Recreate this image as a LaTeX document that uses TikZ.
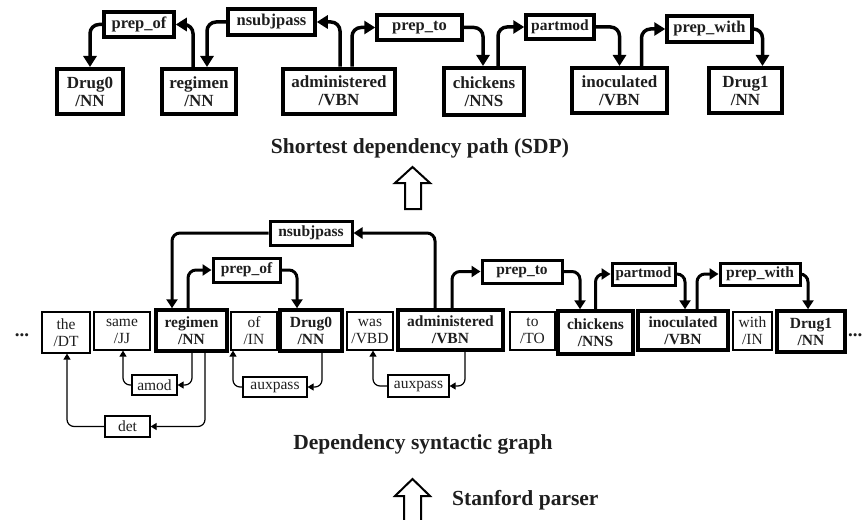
\documentclass[tikz,border=0pt]{standalone}
\usepackage{fontspec}
\setmainfont{Liberation Serif}
\usetikzlibrary{arrows.meta,calc}
\newcommand\tpfont{\bfseries\fontsize{17}{18}\selectfont}
\newcommand\tplfont{\bfseries\fontsize{16.5}{18}\selectfont}
\newcommand\mdbfont{\bfseries\fontsize{15.5}{17}\selectfont}
\newcommand\mdrfont{\fontsize{15.5}{17}\selectfont}
\newcommand\ttlfont{\bfseries\fontsize{21.5}{24}\selectfont}
\definecolor{ink}{HTML}{1E1E1E}
\tikzset{
 topbox/.style={draw, line width=4pt, minimum height=45pt, inner sep=0pt, align=center, font=\tpfont, text=ink},
 toplab/.style={draw, line width=3.5pt, inner sep=0pt, minimum height=25pt, font=\tplfont, text=ink},
 toparr/.style={line width=3.5pt, rounded corners=9pt, -{Triangle[length=11pt,width=13pt]}},
 midbox/.style={draw, line width=3.5pt, inner sep=0pt, minimum height=41pt, align=center, font=\mdbfont, text=ink},
 thinbox/.style={draw, line width=1.2pt, inner sep=0pt, minimum height=38pt, align=center, font=\mdrfont, text=ink},
 midlab/.style={draw, line width=3pt, inner sep=0pt, minimum height=23pt, font=\mdbfont, text=ink},
 midarr/.style={line width=3pt, rounded corners=8pt, -{Triangle[length=9pt,width=11pt]}},
 lowlab/.style={draw, line width=1.2pt, inner sep=0pt, minimum height=20pt, font=\mdrfont, text=ink},
 thinarr/.style={line width=1.2pt, rounded corners=7pt, -{Triangle[length=6pt,width=7pt]}},
 ttl/.style={font=\ttlfont, text=ink, inner sep=0pt},
 dots/.style={font=\bfseries\fontsize{19}{19}\selectfont, text=ink, inner sep=0pt},
 hollow/.style={line width=2pt, line join=miter},
}
\begin{document}
\begin{tikzpicture}[x=1pt,y=-1pt]
\useasboundingbox (0,0) rectangle (864,519);
% ---------- top row (SDP) ----------
\node[topbox, minimum width=66pt] (d0T) at (90,91.5) {Drug0\\/NN};
\node[topbox, minimum width=74pt] (regT) at (199,91.5) {regimen\\/NN};
\node[topbox, minimum width=112pt] (admT) at (339,91) {administered\\/VBN};
\node[topbox, minimum width=80pt, minimum height=47pt] (chkT) at (484,91.5) {chickens\\/NNS};
\node[topbox, minimum width=95pt] (inoT) at (619.5,90.5) {inoculated\\/VBN};
\node[topbox, minimum width=73pt] (d1T) at (745.5,90.5) {Drug1\\/NN};
\node[toplab, minimum width=70pt] (pofT) at (139,24.5) {prep\_of};
\node[toplab, minimum width=87pt, minimum height=26pt] (nsT) at (271.5,22) {nsubjpass};
\node[toplab, minimum width=85pt] (ptoT) at (419.5,27.5) {prep\_to};
\node[toplab, minimum width=68pt, minimum height=24pt, font=\bfseries\fontsize{15.5}{17}\selectfont] (pmT) at (560,27) {partmod};
\node[toplab, minimum width=85pt, minimum height=26pt] (pwT) at (709.5,29) {prep\_with};
\draw[toparr] ([xshift=-6pt]regT.north) |- (pofT.east);
\draw[toparr] (pofT.west) -| (d0T.north);
\draw[toparr] ([xshift=1pt]admT.north) |- (nsT.east);
\draw[toparr] (nsT.west) -| ([xshift=8pt]regT.north);
\draw[toparr] ([xshift=13pt]admT.north) |- (ptoT.west);
\draw[toparr] (ptoT.east) -| ([xshift=-1pt]chkT.north);
\draw[toparr] ([xshift=14pt]chkT.north) |- (pmT.west);
\draw[toparr] (pmT.east) -| (inoT.north);
\draw[toparr] ([xshift=22pt]inoT.north) |- (pwT.west);
\draw[toparr] (pwT.east) -| ([xshift=17pt]d1T.north);
% ---------- titles and hollow arrows ----------
\node[ttl] (sdp) at (420,148) {Shortest dependency path (SDP)};
\draw[hollow] (405,209) -- (405,183) -- (395,183) -- (412.5,167) -- (430,183) -- (421,183) -- (421,209) -- cycle;
\node[ttl] (dsg) at (423,444) {Dependency syntactic graph};
\draw[hollow] (404,520) -- (404,496) -- (395,496) -- (412.5,479) -- (430,496) -- (421,496) -- (421,520);
\node[ttl, anchor=west] (sp) at (452,500) {Stanford parser};
% ---------- middle row ----------
\node[dots, anchor=base] (dl) at (22,336) {...};
\node[dots, anchor=base west] (dr) at (848,336) {...};
\node[thinbox, minimum width=48pt, minimum height=41pt] (theM) at (66,332.5) {the\\/DT};
\node[thinbox, minimum width=56pt] (samM) at (122,331) {same\\/JJ};
\node[midbox, minimum width=71pt] (regM) at (191.5,330.5) {regimen\\/NN};
\node[thinbox, minimum width=46pt] (ofM) at (254,331) {of\\/IN};
\node[midbox, minimum width=62pt] (d0M) at (311,330.5) {Drug0\\/NN};
\node[thinbox, minimum width=46pt] (wasM) at (370,331) {was\\/VBD};
\node[midbox, minimum width=105pt, minimum height=40pt] (admM) at (450.5,330) {administered\\/VBN};
\node[thinbox, minimum width=45pt] (toM) at (532.5,331) {to\\/TO};
\node[midbox, minimum width=75pt, minimum height=43pt] (chkM) at (595.5,332.5) {chickens\\/NNS};
\node[midbox, minimum width=90pt, minimum height=39pt] (inoM) at (683,330.5) {inoculated\\/VBN};
\node[thinbox, minimum width=39pt] (withM) at (752.5,331) {with\\/IN};
\node[midbox, minimum width=68pt] (d1M) at (811,331.5) {Drug1\\/NN};
% middle labels
\node[midlab, minimum width=82pt, minimum height=24pt] (nsM) at (311,233) {nsubjpass};
\node[midlab, minimum width=67pt, minimum height=24pt] (pofM) at (246.5,270) {prep\_of};
\node[midlab, minimum width=80pt] (ptoM) at (522,271.5) {prep\_to};
\node[midlab, minimum width=63pt, minimum height=22pt, font=\bfseries\fontsize{15}{17}\selectfont] (pmM) at (643.5,274) {partmod};
\node[midlab, minimum width=80pt, minimum height=22pt] (pwM) at (760,274) {prep\_with};
\draw[midarr] ([xshift=-15.5pt]admM.north) |- (nsM.east);
\draw[midarr] (nsM.west) -| ([xshift=-19.5pt]regM.north);
\draw[midarr] ([xshift=-3.5pt]regM.north) |- (pofM.west);
\draw[midarr] (pofM.east) -| ([xshift=-14pt]d0M.north);
\draw[midarr] ([xshift=1.5pt]admM.north) |- (ptoM.west);
\draw[midarr] (ptoM.east) -| ([xshift=-15.5pt]chkM.north);
\draw[midarr] (chkM.north) |- (pmM.west);
\draw[midarr] (pmM.east) -| ([xshift=2pt]inoM.north);
\draw[midarr] ([xshift=14pt]inoM.north) |- (pwM.west);
\draw[midarr] (pwM.east) -| ([xshift=-3pt]d1M.north);
% lower labels
\node[lowlab, minimum width=45pt] (amod) at (154.5,385) {amod};
\node[lowlab, minimum width=45pt, minimum height=21pt] (det) at (127.5,426.5) {det};
\node[lowlab, minimum width=64pt] (aux1) at (275,387) {auxpass};
\node[lowlab, minimum width=61pt, minimum height=22pt] (aux2) at (418.5,386) {auxpass};
\draw[thinarr] ([xshift=0.5pt]regM.south) |- (amod.east);
\draw[thinarr] (amod.west) -| ([xshift=1pt]samM.south);
\draw[thinarr] ([xshift=13.5pt]regM.south) |- (det.east);
\draw[thinarr] (det.west) -| ([xshift=1pt]theM.south);
\draw[thinarr] ([xshift=11pt]d0M.south) |- (aux1.east);
\draw[thinarr] (aux1.west) -| ([xshift=-21pt]ofM.south);
\draw[thinarr] ([xshift=14.5pt]admM.south) |- (aux2.east);
\draw[thinarr] (aux2.west) -| ([xshift=3pt]wasM.south);
\end{tikzpicture}
\end{document}
